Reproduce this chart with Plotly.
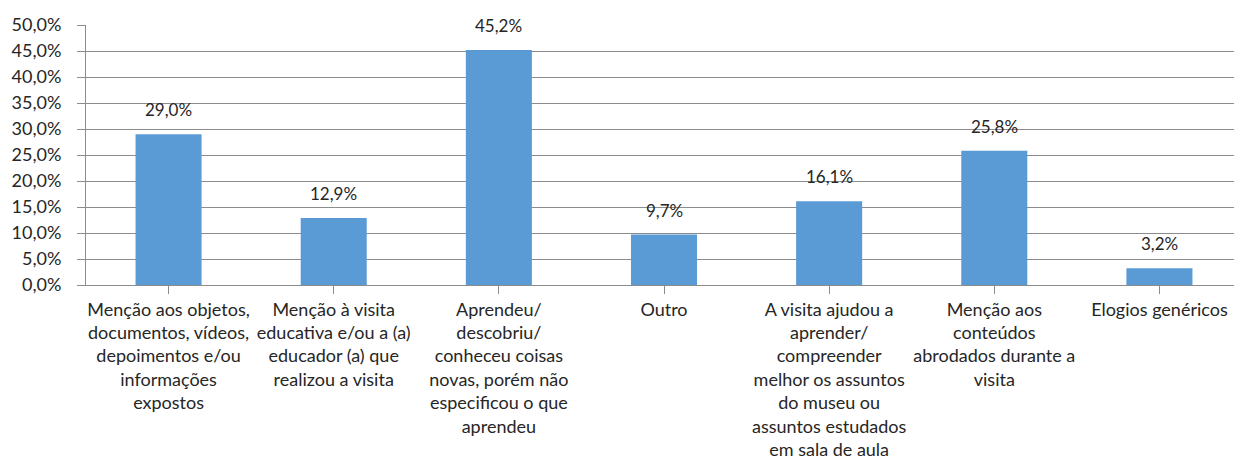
import plotly.graph_objects as go

categorias = [
    "Menção aos objetos,<br>documentos, vídeos,<br>depoimentos e/ou<br>informações<br>expostos",
    "Menção à visita<br>educativa e/ou a (a)<br>educador (a) que<br>realizou a visita",
    "Aprendeu/<br>descobriu/<br>conheceu coisas<br>novas, porém não<br>especificou o que<br>aprendeu",
    "Outro",
    "A visita ajudou a<br>aprender/<br>compreender<br>melhor os assuntos<br>do museu ou<br>assuntos estudados<br>em sala de aula",
    "Menção aos<br>conteúdos<br>abrodados durante a<br>visita",
    "Elogios genéricos",
]
percentuais = [0.290, 0.129, 0.452, 0.097, 0.161, 0.258, 0.032]

fonte = dict(family="Lato", size=17, color="#262626")
cinza = "#8c8c8c"
posicoes = list(range(len(categorias)))

fig = go.Figure()
fig.add_trace(go.Bar(
    x=posicoes,
    y=percentuais,
    width=0.4,
    marker=dict(color="#5b9bd5", line=dict(width=0)),
))

# rótulos de dados acima das barras
for x, y in zip(posicoes, percentuais):
    fig.add_annotation(
        x=x, y=y, text=f"{y*100:.1f}%".replace(".", ","),
        showarrow=False, yanchor="bottom", yshift=12, font=fonte,
    )

# a página tem 8px de margem no body
fig.update_layout(
    width=1234, height=452,
    margin=dict(l=78, r=0, t=17, b=175),
    paper_bgcolor="white", plot_bgcolor="white",
    separators=",.",
    showlegend=False,
    font=fonte,
)
fig.update_xaxes(
    tickmode="array",
    tickvals=posicoes,
    ticktext=categorias,
    range=[-0.5, 6.5],
    automargin=False,
    showline=True, linecolor=cinza, linewidth=1,
    ticks="outside", tickson="boundaries", ticklen=8, tickcolor=cinza,
    tickangle=0,
    tickfont=dict(family="Lato", size=18, color="#262626"),
    showgrid=False,
)
fig.update_yaxes(
    range=[0, 0.5],
    dtick=0.05,
    tickformat=".1%",
    automargin=False,
    showline=True, linecolor=cinza, linewidth=1,
    ticks="outside", ticklen=8, tickcolor=cinza,
    ticklabelstandoff=12,
    showgrid=True, gridcolor=cinza, gridwidth=1,
    zeroline=False,
    tickfont=dict(family="Lato", size=18, color="#262626"),
)

fig.write_html("out.html")
